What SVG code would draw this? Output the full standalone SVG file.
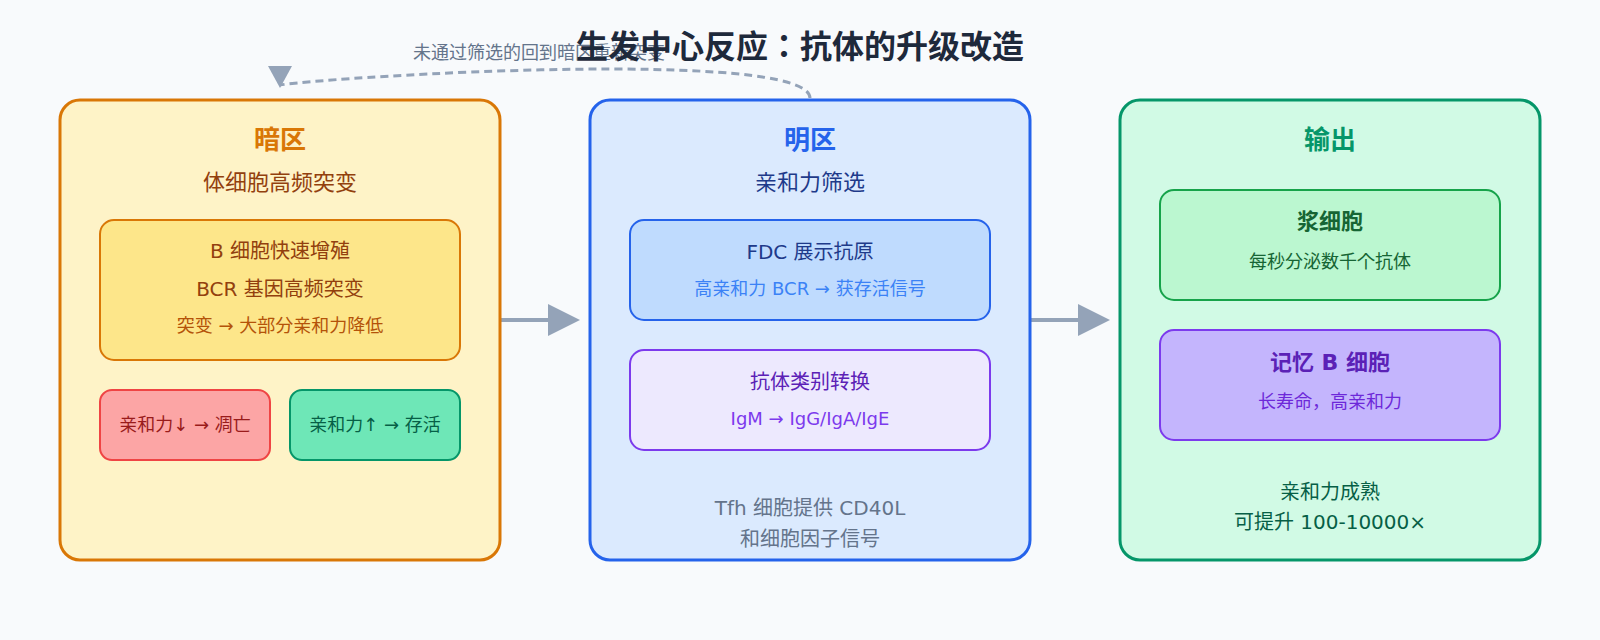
<svg xmlns="http://www.w3.org/2000/svg" width="1600" height="640" viewBox="0 0 1600 640">
  <defs>
    <style>
      text { font-family: "DejaVu Sans", "Noto Sans CJK JP", sans-serif; text-anchor: middle; }
      .title { font-size: 32px; font-weight: bold; fill: #1e293b; }
      .zone { stroke-width: 3; }
      .sub { stroke-width: 2; }
      .h1 { font-size: 26px; font-weight: bold; }
      .h2 { font-size: 22px; }
      .t20 { font-size: 20px; }
      .t18 { font-size: 18px; }
      .b22 { font-size: 22px; font-weight: bold; }
      .conn { fill: none; stroke: #94a3b8; stroke-width: 4; }
      .loop { fill: none; stroke: #94a3b8; stroke-width: 3; stroke-dasharray: 8 5; }
    </style>
    <marker id="arrow" viewBox="0 0 32 32" refX="0" refY="16" markerWidth="32" markerHeight="32" markerUnits="userSpaceOnUse" orient="auto">
      <path d="M0,0 L32,16 L0,32 z" fill="#94a3b8"/>
    </marker>
    <marker id="arrowDown" viewBox="0 0 22 24" refX="19" refY="12" markerWidth="22" markerHeight="24" markerUnits="userSpaceOnUse" orient="90">
      <path d="M0,0 L22,12 L0,24 z" fill="#94a3b8"/>
    </marker>
  </defs>
  <rect x="0" y="0" width="1600" height="640" fill="#f8fafc"/>

  <g id="connectors">
    <path class="conn" d="M500,320 L548,320" marker-end="url(#arrow)"/>
    <path class="conn" d="M1030,320 L1078,320" marker-end="url(#arrow)"/>
    <path class="loop" d="M810,98 C808,48 340,76 280,85" marker-end="url(#arrowDown)"/>
    <text class="t18" x="539" y="59" fill="#64748b">未通过筛选的回到暗区重新突变</text>
  </g>

  <text class="title" x="800" y="58">生发中心反应：抗体的升级改造</text>

  <g id="dark-zone">
    <rect class="zone" x="60" y="100" width="440" height="460" rx="20" fill="#fef3c7" stroke="#d97706"/>
    <text class="h1" x="280" y="149" fill="#d97706">暗区</text>
    <text class="h2" x="280" y="190" fill="#92400e">体细胞高频突变</text>
  </g>
  <g id="proliferation">
    <rect class="sub" x="100" y="220" width="360" height="140" rx="14" fill="#fde68a" stroke="#d97706"/>
    <text class="t20" x="280" y="258" fill="#92400e">B 细胞快速增殖</text>
    <text class="t20" x="280" y="296" fill="#92400e">BCR 基因高频突变</text>
    <text class="t18" x="280" y="332" fill="#b45309">突变 → 大部分亲和力降低</text>
  </g>
  <g id="apoptosis">
    <rect class="sub" x="100" y="390" width="170" height="70" rx="12" fill="#fca5a5" stroke="#ef4444"/>
    <text class="t18" x="185" y="431" fill="#991b1b">亲和力↓ → 凋亡</text>
  </g>
  <g id="survival">
    <rect class="sub" x="290" y="390" width="170" height="70" rx="12" fill="#6ee7b7" stroke="#059669"/>
    <text class="t18" x="375" y="431" fill="#065f46">亲和力↑ → 存活</text>
  </g>

  <g id="light-zone">
    <rect class="zone" x="590" y="100" width="440" height="460" rx="20" fill="#dbeafe" stroke="#2563eb"/>
    <text class="h1" x="810" y="149" fill="#2563eb">明区</text>
    <text class="h2" x="810" y="190" fill="#1e3a8a">亲和力筛选</text>
    <text class="t20" x="810" y="515" fill="#64748b">Tfh 细胞提供 CD40L</text>
    <text class="t20" x="810" y="546" fill="#64748b">和细胞因子信号</text>
  </g>
  <g id="fdc">
    <rect class="sub" x="630" y="220" width="360" height="100" rx="14" fill="#bfdbfe" stroke="#2563eb"/>
    <text class="t20" x="810" y="259" fill="#1e3a8a">FDC 展示抗原</text>
    <text class="t18" x="810" y="295" fill="#3b82f6">高亲和力 BCR → 获存活信号</text>
  </g>
  <g id="class-switch">
    <rect class="sub" x="630" y="350" width="360" height="100" rx="14" fill="#ede9fe" stroke="#7c3aed"/>
    <text class="t20" x="810" y="389" fill="#5b21b6">抗体类别转换</text>
    <text class="t18" x="810" y="425" fill="#7c3aed">IgM → IgG/IgA/IgE</text>
  </g>

  <g id="output">
    <rect class="zone" x="1120" y="100" width="420" height="460" rx="20" fill="#d1fae5" stroke="#059669"/>
    <text class="h1" x="1330" y="149" fill="#059669">输出</text>
    <text class="t20" x="1330" y="499" fill="#065f46">亲和力成熟</text>
    <text class="t20" x="1330" y="529" fill="#065f46">可提升 100-10000×</text>
  </g>
  <g id="plasma-cell">
    <rect class="sub" x="1160" y="190" width="340" height="110" rx="14" fill="#bbf7d0" stroke="#16a34a"/>
    <text class="b22" x="1330" y="229" fill="#166534">浆细胞</text>
    <text class="t18" x="1330" y="268" fill="#166534">每秒分泌数千个抗体</text>
  </g>
  <g id="memory-b-cell">
    <rect class="sub" x="1160" y="330" width="340" height="110" rx="14" fill="#c4b5fd" stroke="#7c3aed"/>
    <text class="b22" x="1330" y="370" fill="#5b21b6">记忆 B 细胞</text>
    <text class="t18" x="1330" y="408" fill="#6d28d9">长寿命，高亲和力</text>
  </g>
</svg>
